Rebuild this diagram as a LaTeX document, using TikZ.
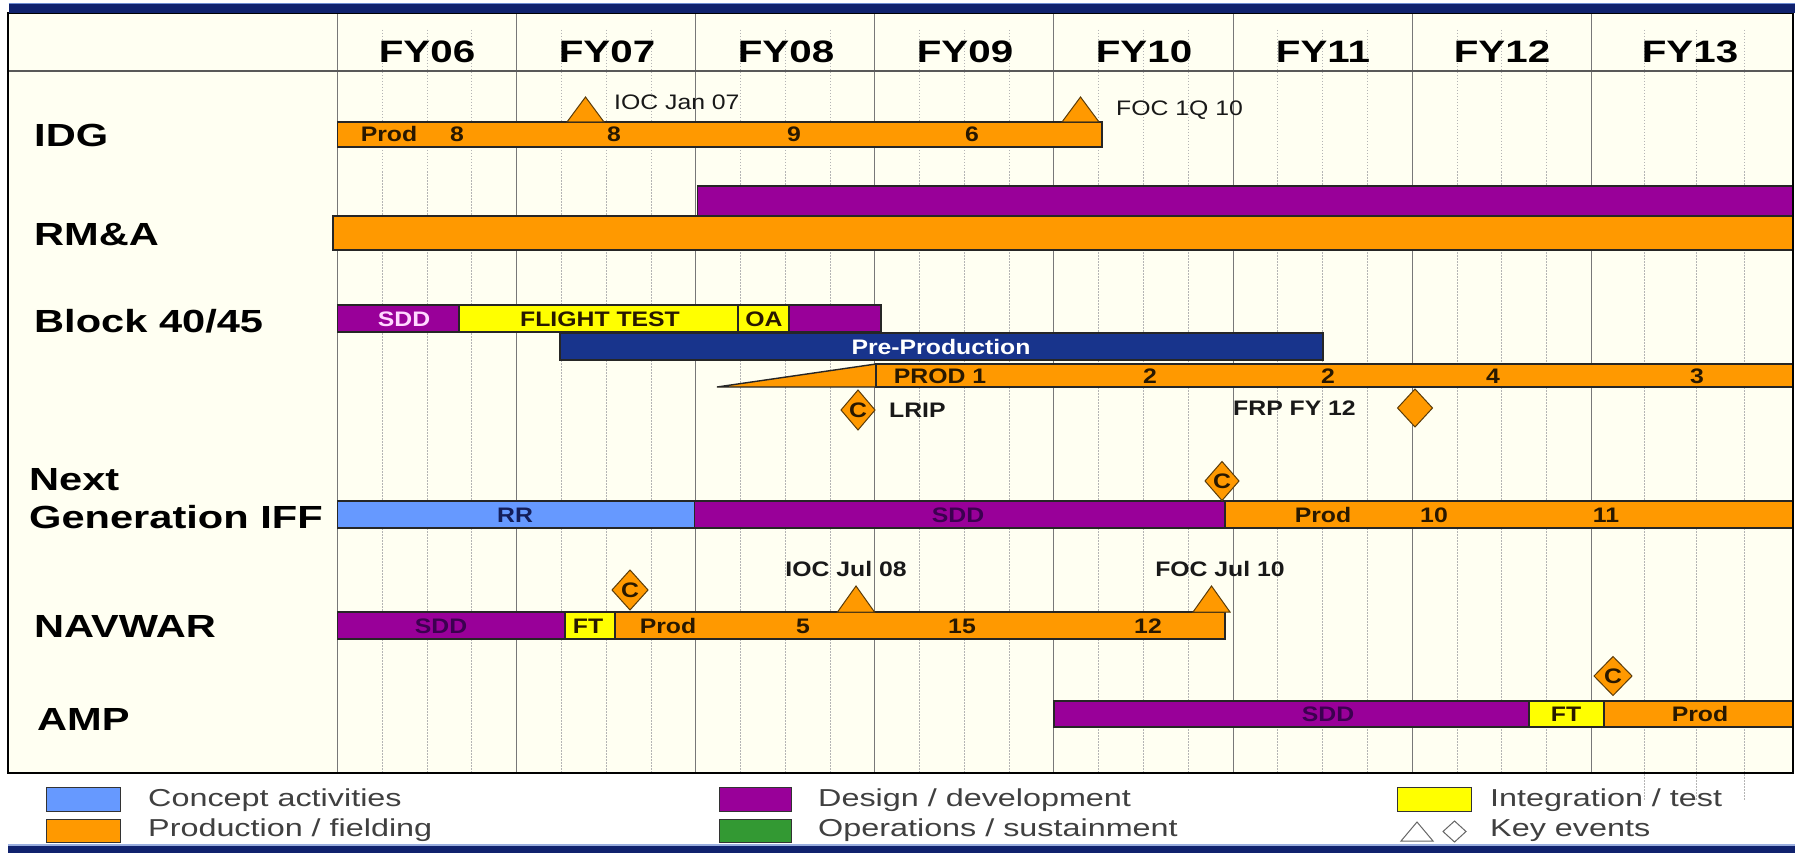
\documentclass[tikz,border=0pt]{standalone}
\usepackage{fontspec}
\setmainfont{Liberation Sans}[FakeStretch=1.3]
\newfontfamily\barfont{Liberation Sans}[FakeStretch=1.18]
\newfontfamily\legfont{Liberation Sans}[FakeStretch=1.32]

\definecolor{prodorange}{RGB}{255,153,0}
\definecolor{devpurple}{RGB}{153,0,153}
\definecolor{testyellow}{RGB}{255,255,0}
\definecolor{preblue}{RGB}{24,52,140}
\definecolor{conceptblue}{RGB}{102,153,255}
\definecolor{opsgreen}{RGB}{51,153,51}
\definecolor{chartbg}{RGB}{255,255,242}
\definecolor{navy}{RGB}{16,34,110}
\definecolor{edgeblue}{RGB}{110,140,210}
\definecolor{barink}{RGB}{40,24,0}
\definecolor{sddink}{RGB}{60,0,80}
\definecolor{sddlight}{RGB}{255,215,255}
\definecolor{rrink}{RGB}{20,30,90}
\definecolor{gridgray}{RGB}{120,120,120}
\definecolor{dotgray}{RGB}{180,180,180}
\definecolor{mileedge}{RGB}{90,60,10}

\tikzset{
  barline/.style={draw=black!85, line width=1.4pt},
  bartext/.style={font=\barfont\fontsize{21}{21}\selectfont\bfseries, text=barink, anchor=base, inner sep=0pt},
  rowlabel/.style={font=\fontsize{32}{32}\selectfont\bfseries, anchor=base west, inner sep=0pt},
  yearlabel/.style={font=\fontsize{31}{31}\selectfont\bfseries, anchor=base, inner sep=0pt},
  evlabel/.style={font=\barfont\fontsize{21}{21}\selectfont\bfseries, text=black!90, inner sep=0pt},
  evlabelthin/.style={font=\barfont\fontsize{21}{21}\selectfont, text=black!90, inner sep=0pt},
  milestone/.style={draw=mileedge, fill=prodorange, line width=1pt, line join=miter},
  ctext/.style={font=\barfont\fontsize{21}{21}\selectfont\bfseries, text=barink, inner sep=0pt},
  legtext/.style={font=\legfont\fontsize{24.5}{24.5}\selectfont, text=black!75, anchor=base west, inner sep=0pt},
  swatch/.style={draw=black!80, line width=1pt},
  legsym/.style={draw=black!60, line width=1pt, line join=miter},
  yearline/.style={draw=gridgray, line width=0.9pt},
  quarterline/.style={draw=dotgray, line width=0.8pt, dash pattern=on 1.5pt off 1.5pt},
}

% one bar segment: x1, x2, y1, y2, fill colour
\newcommand\gbar[5]{\draw[barline,fill=#5] (#1,#3) rectangle (#2,#4);}

\begin{document}
\begin{tikzpicture}[x=1pt,y=-1pt]
\useasboundingbox (0,0) rectangle (1795,853);
\fill[white] (0,0) rectangle (1795,853);

% chart area
\fill[chartbg] (8,13) rectangle (1793,773);

% quarter grid (dotted)
\foreach \i in {0,...,6}{
  \foreach \q in {1,2,3}{
    \draw[quarterline] ({337.5+179.1*\i+44.78*\q},30) -- ({337.5+179.1*\i+44.78*\q},773);
  }
}
\foreach \x in {1644,1696,1744}{
  \draw[quarterline] (\x,30) -- (\x,800);
}
% fiscal year grid (solid)
\foreach \i in {0,...,7}{
  \draw[yearline] ({337.5+179.1*\i},13) -- ({337.5+179.1*\i},773);
}

% header separator
\draw[draw=black!65, line width=1.5pt] (8,71) -- (1793,71);

% year headings
\foreach \lab/\x in {FY06/427,FY07/607,FY08/786,FY09/965,FY10/1144,FY11/1323,FY12/1502,FY13/1690}{
  \node[yearlabel] (\lab) at (\x,63) {\lab};
}

% row headings
\node[rowlabel] (lIDG) at (34,147) {IDG};
\node[rowlabel] (lRMA) at (34,245) {RM\&A};
\node[rowlabel] (lBlk) at (34,332) {Block 40/45};
\node[rowlabel] (lNext) at (29,490) {Next};
\node[rowlabel] (lGen) at (29,528) {Generation IFF};
\node[rowlabel] (lNav) at (34,637) {NAVWAR};
\node[rowlabel] (lAMP) at (37,730) {AMP};

% ---------- IDG ----------
\gbar{337.5}{1102}{122}{147}{prodorange}
\node[bartext] (idg1) at (389,142) {Prod};
\node[bartext] (idg2) at (457,142) {8};
\node[bartext] (idg3) at (614,142) {8};
\node[bartext] (idg4) at (794,142) {9};
\node[bartext] (idg5) at (972,142) {6};
\coordinate (iocA) at (585.5,122);
\draw[milestone] (iocA) ++(-18.5,0) -- ++(18.5,-25) -- ++(18.5,25) -- cycle;
\node[evlabelthin, anchor=base west] (iocAl) at (614,110) {IOC Jan 07};
\coordinate (focA) at (1080.5,122);
\draw[milestone] (focA) ++(-18.5,0) -- ++(18.5,-25) -- ++(18.5,25) -- cycle;
\node[evlabelthin, anchor=base west] (focAl) at (1116,116) {FOC 1Q 10};

% ---------- RM&A ----------
\gbar{697.5}{1793}{186}{216}{devpurple}
\gbar{333}{1793}{216}{250}{prodorange}

% ---------- Block 40/45 ----------
\gbar{337.5}{459}{305}{332}{devpurple}
\gbar{459}{738}{305}{332}{testyellow}
\gbar{738}{789}{305}{332}{testyellow}
\gbar{789}{881}{305}{332}{devpurple}
\node[bartext, text=sddlight] (blk1) at (404,326) {SDD};
\node[bartext] (blk2) at (600,326) {FLIGHT TEST};
\node[bartext] (blk3) at (764,326) {OA};

\gbar{560}{1323}{333}{360}{preblue}
\node[bartext, text=white] (pre) at (941,354.5) {Pre-Production};

\draw[barline, fill=prodorange] (717,387) -- (876,364) -- (876,387) -- cycle;
\gbar{876}{1793}{364}{387}{prodorange}
\node[bartext] (pr1) at (940,383) {PROD 1};
\node[bartext] (pr2) at (1150,383) {2};
\node[bartext] (pr3) at (1328,383) {2};
\node[bartext] (pr4) at (1493,383) {4};
\node[bartext] (pr5) at (1697,383) {3};

\coordinate (lrip) at (858,410);
\draw[milestone] (lrip) ++(0,-20) -- ++(17,20) -- ++(-17,20) -- ++(-17,-20) -- cycle;
\node[ctext] (lripc) at (lrip) {C};
\node[evlabel, anchor=west] (lripl) at (889,410) {LRIP};

\coordinate (frp) at (1415,408);
\draw[milestone] (frp) ++(0,-19) -- ++(17.5,19) -- ++(-17.5,19) -- ++(-17.5,-19) -- cycle;
\node[evlabel, anchor=west] (frpl) at (1233,408) {FRP FY 12};

% ---------- Next Generation IFF ----------
\gbar{337.5}{694.6}{501}{528}{conceptblue}
\gbar{694.6}{1225}{501}{528}{devpurple}
\gbar{1225}{1793}{501}{528}{prodorange}
\node[bartext, text=rrink] (iff1) at (515,522) {RR};
\node[bartext, text=sddink] (iff2) at (958,522) {SDD};
\node[bartext] (iff3) at (1323,522) {Prod};
\node[bartext] (iff4) at (1434,522) {10};
\node[bartext] (iff5) at (1606,522) {11};
\coordinate (iffc) at (1222,481);
\draw[milestone] (iffc) ++(0,-19.5) -- ++(17,19.5) -- ++(-17,19.5) -- ++(-17,-19.5) -- cycle;
\node[ctext] (iffcc) at (iffc) {C};

% ---------- NAVWAR ----------
\gbar{337.5}{565}{612}{639}{devpurple}
\gbar{565}{615}{612}{639}{testyellow}
\gbar{615}{1225}{612}{639}{prodorange}
\node[bartext, text=sddink] (nav1) at (441,633) {SDD};
\node[bartext] (nav2) at (588,633) {FT};
\node[bartext] (nav3) at (668,633) {Prod};
\node[bartext] (nav4) at (803,633) {5};
\node[bartext] (nav5) at (962,633) {15};
\node[bartext] (nav6) at (1148,633) {12};
\coordinate (navc) at (630,590);
\draw[milestone] (navc) ++(0,-20) -- ++(18,20) -- ++(-18,20) -- ++(-18,-20) -- cycle;
\node[ctext] (navcc) at (navc) {C};
\coordinate (iocB) at (856,612);
\draw[milestone] (iocB) ++(-18.5,0) -- ++(18.5,-26) -- ++(18.5,26) -- cycle;
\node[evlabel, anchor=base] (iocBl) at (846,576) {IOC Jul 08};
\coordinate (focB) at (1211.5,612);
\draw[milestone] (focB) ++(-18.5,0) -- ++(18.5,-26) -- ++(18.5,26) -- cycle;
\node[evlabel, anchor=base] (focBl) at (1220,576) {FOC Jul 10};

% ---------- AMP ----------
\gbar{1054}{1529}{701}{727}{devpurple}
\gbar{1529}{1604}{701}{727}{testyellow}
\gbar{1604}{1793}{701}{727}{prodorange}
\node[bartext, text=sddink] (amp1) at (1328,721.5) {SDD};
\node[bartext] (amp2) at (1566,721.5) {FT};
\node[bartext] (amp3) at (1700,721.5) {Prod};
\coordinate (ampc) at (1613,676);
\draw[milestone] (ampc) ++(0,-19.5) -- ++(19,19.5) -- ++(-19,19.5) -- ++(-19,-19.5) -- cycle;
\node[ctext] (ampcc) at (ampc) {C};

% chart frame
\draw[black, line width=2.5pt] (8,13) rectangle (1793,773);

% top and bottom rules
\fill[navy] (8.6,3) rectangle (1795,13);
\draw[edgeblue, line width=1.2pt] (8.6,3.5) -- (1795,3.5);
\fill[navy] (8,846) rectangle (1795,853);
\draw[edgeblue!70, line width=1.5pt] (8,845) -- (1795,845);

% ---------- legend ----------
\draw[swatch, fill=conceptblue] (46,787) rectangle (120.5,811);
\draw[swatch, fill=prodorange] (46,819) rectangle (120.5,842);
\node[legtext] (lg1) at (148,806) {Concept activities};
\node[legtext] (lg2) at (148,836) {Production / fielding};

\draw[swatch, fill=devpurple] (719,787) rectangle (791,811);
\draw[swatch, fill=opsgreen] (719,819) rectangle (791,842);
\node[legtext] (lg3) at (818,806) {Design / development};
\node[legtext] (lg4) at (818,836) {Operations / sustainment};

\draw[swatch, fill=testyellow] (1397,787) rectangle (1471,811);
\node[legtext] (lg5) at (1490,806) {Integration / test};
\coordinate (legtri) at (1417,841);
\draw[legsym] (legtri) ++(-16,0) -- ++(16,-19) -- ++(16,19) -- cycle;
\coordinate (legdia) at (1454.5,831.5);
\draw[legsym] (legdia) ++(0,-10.5) -- ++(11.5,10.5) -- ++(-11.5,10.5) -- ++(-11.5,-10.5) -- cycle;
\node[legtext] (lg6) at (1490,836) {Key events};

\end{tikzpicture}
\end{document}
